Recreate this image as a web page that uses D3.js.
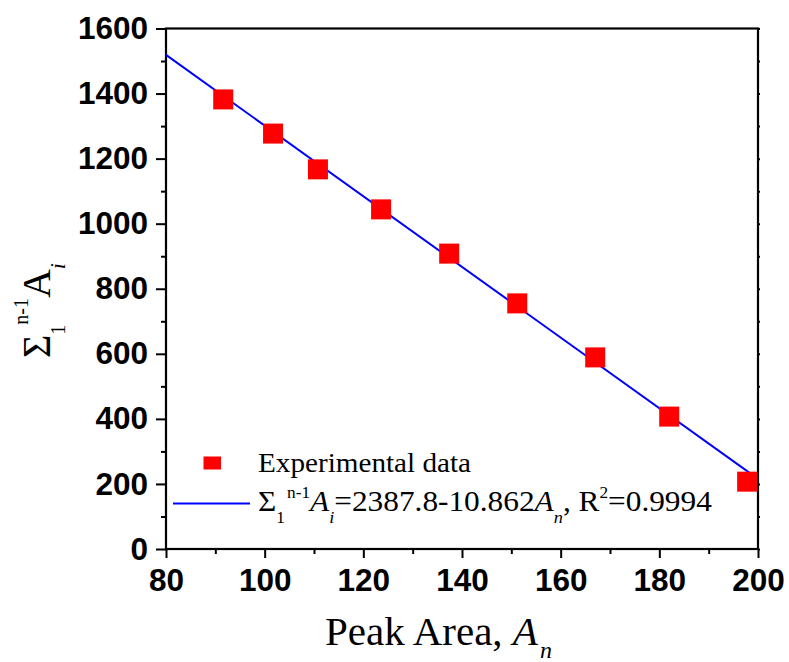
<!DOCTYPE html>
<html>
<head>
<meta charset="utf-8">
<script src="https://cdn.jsdelivr.net/npm/d3@7"></script>
<style>
  html, body { margin: 0; padding: 0; background: #fff; }
  svg { display: block; }
</style>
</head>
<body>
<svg id="chart" width="789" height="662"></svg>
<script>
// Peak area A_n against cumulative sum of preceding areas
const peakArea = [91.6, 101.7, 110.8, 123.6, 137.4, 151.2, 167.0, 182.0, 197.8];
const cumulativeSum = [1382, 1277, 1167, 1044, 908, 755, 589, 407, 207];

// Linear fit: sum = intercept + slope * A_n
const fitIntercept = 2387.8;
const fitSlope = -10.862;
const fitRange = [80, 200];

const xTicks = [80, 100, 120, 140, 160, 180, 200];
const xMinorTicks = [90, 110, 130, 150, 170, 190];
const yTicks = [0, 200, 400, 600, 800, 1000, 1200, 1400, 1600];
const yMinorTicks = [100, 300, 500, 700, 900, 1100, 1300, 1500];

const svg = d3.select("#chart");
const plotL = 166, plotR = 758, plotT = 28.5, plotB = 549;

const x = d3.scaleLinear().domain([80, 200]).range([plotL, plotR]);
const y = d3.scaleLinear().domain([0, 1600]).range([plotB, plotT]);

const tickFont = "'Liberation Sans', Arial, sans-serif";
const serif = "'Liberation Serif', 'Times New Roman', serif";

// Minor ticks
svg.append("g").attr("transform", `translate(0,${plotB})`)
  .call(d3.axisBottom(x).tickValues(xMinorTicks).tickSize(5).tickFormat(""))
  .call(g => g.select(".domain").remove());
svg.append("g").attr("transform", `translate(${plotL},0)`)
  .call(d3.axisLeft(y).tickValues(yMinorTicks).tickSize(5).tickFormat(""))
  .call(g => g.select(".domain").remove());

// Major ticks with labels
const xAxis = svg.append("g").attr("transform", `translate(0,${plotB})`)
  .call(d3.axisBottom(x).tickValues(xTicks).tickSize(9).tickPadding(10.5).tickFormat(d3.format("d")));
const yAxis = svg.append("g").attr("transform", `translate(${plotL},0)`)
  .call(d3.axisLeft(y).tickValues(yTicks).tickSize(10).tickPadding(8).tickFormat(d3.format("d")));

// Small outward ticks on the right edge
svg.append("g").attr("transform", `translate(${plotR},0)`)
  .call(d3.axisRight(y).tickValues(yTicks.concat(yMinorTicks)).tickSize(2).tickFormat(""))
  .call(g => g.select(".domain").remove());

[xAxis, yAxis].forEach(g => {
  g.select(".domain").remove();
  g.selectAll(".tick text")
    .attr("fill", "#000")
    .style("font-family", tickFont)
    .style("font-weight", "bold")
    .style("font-size", "31.5px");
});
svg.selectAll(".tick line").attr("stroke", "#000").attr("stroke-width", 2);

// Frame
svg.append("rect")
  .attr("x", plotL).attr("y", plotT)
  .attr("width", plotR - plotL).attr("height", plotB - plotT)
  .attr("fill", "none").attr("stroke", "#000").attr("stroke-width", 2.2);

// Fit line
const fitLine = d3.line().x(d => x(d)).y(d => y(fitIntercept + fitSlope * d));
svg.append("path")
  .datum(fitRange)
  .attr("d", fitLine)
  .attr("fill", "none")
  .attr("stroke", "#0000ff")
  .attr("stroke-width", 2);

// Data squares
const sq = 20;
svg.append("g").selectAll("rect")
  .data(peakArea.map((a, i) => ({ a, s: cumulativeSum[i] })))
  .join("rect")
  .attr("x", d => x(d.a) - sq / 2)
  .attr("y", d => y(d.s) - sq / 2)
  .attr("width", sq).attr("height", sq)
  .attr("fill", "#ff0000");

// Legend
const legend = svg.append("g").style("font-family", serif).attr("fill", "#000");
legend.append("rect")
  .attr("x", 203.5).attr("y", 456.5).attr("width", 17.5).attr("height", 13)
  .attr("fill", "#ff0000");
legend.append("text")
  .attr("x", 258).attr("y", 472)
  .style("font-size", "28px")
  .attr("textLength", 213).attr("lengthAdjust", "spacingAndGlyphs")
  .text("Experimental data");

legend.append("line")
  .attr("x1", 173).attr("x2", 250).attr("y1", 503.5).attr("y2", 503.5)
  .attr("stroke", "#0000ff").attr("stroke-width", 2);

// Equation text, widened slightly to the serif face used in the legend
const eq = legend.append("text")
  .attr("x", 258).attr("y", 511)
  .attr("transform", "translate(258,0) scale(1.08,1) translate(-258,0)")
  .style("font-size", "29px");
eq.append("tspan").text("Σ");
eq.append("tspan").attr("dy", 12).style("font-size", "16px").text("1");
eq.append("tspan").attr("dy", -25).attr("dx", 2).style("font-size", "16px").text("n-1");
eq.append("tspan").attr("dy", 13).style("font-style", "italic").text("A");
eq.append("tspan").attr("dy", 12).style("font-size", "17px").style("font-style", "italic").text("i");
eq.append("tspan").attr("dy", -12).text("=2387.8-10.862");
eq.append("tspan").style("font-style", "italic").text("A");
eq.append("tspan").attr("dy", 12).style("font-size", "17px").style("font-style", "italic").text("n");
eq.append("tspan").attr("dy", -12).text(", R");
eq.append("tspan").attr("dy", -13).style("font-size", "16px").text("2");
eq.append("tspan").attr("dy", 13).text("=0.9994");

// X axis title
const xt = svg.append("text")
  .attr("x", 325).attr("y", 645)
  .style("font-family", serif).style("font-size", "41px").attr("fill", "#000");
xt.append("tspan").text("Peak Area, ");
xt.append("tspan").style("font-style", "italic").text("A");
xt.append("tspan").attr("dy", 13).attr("dx", 2).style("font-size", "24px").style("font-style", "italic").text("n");

// Y axis title
const yt = svg.append("text")
  .attr("transform", "translate(50,358) rotate(-90)")
  .style("font-family", serif).style("font-size", "40px").attr("fill", "#000");
yt.append("tspan").text("Σ");
yt.append("tspan").attr("dy", 15).style("font-size", "20px").text("1");
yt.append("tspan").attr("dy", -37).style("font-size", "20px").text("n-1");
yt.append("tspan").attr("dy", 22).text("A");
yt.append("tspan").attr("dy", 15).style("font-size", "22px").style("font-style", "italic").text("i");
</script>
</body>
</html>
